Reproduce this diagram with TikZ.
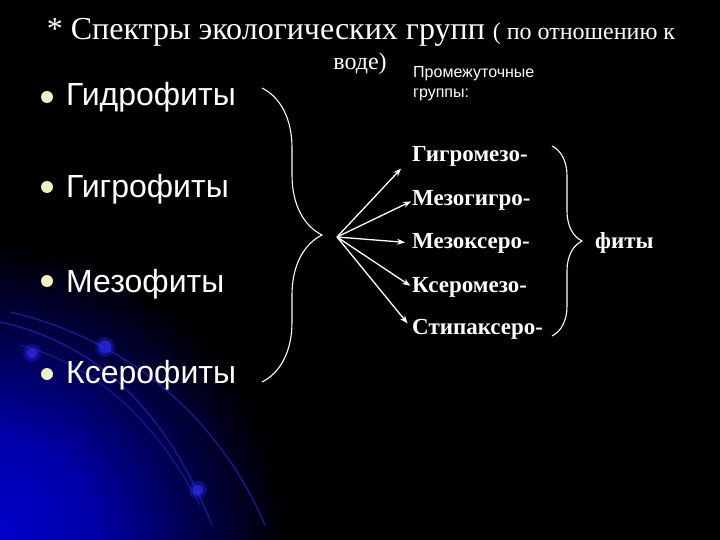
\documentclass[tikz,border=0pt]{standalone}
\usepackage{fontspec}
\setmainfont{Liberation Serif}
\newfontfamily\arialfont{Liberation Sans}
\usetikzlibrary{arrows.meta,decorations.pathreplacing}

\definecolor{glowblue}{RGB}{0,0,210}
\definecolor{arcblue}{RGB}{35,35,185}
\definecolor{dotblue}{RGB}{40,40,225}
\definecolor{bulletyellow}{RGB}{240,240,195}

% blue glow in the lower left corner
\pgfdeclareradialshading{cornerglow}{\pgfpoint{0bp}{0bp}}{%
  color(0bp)=(glowblue); color(110bp)=(glowblue!80!black);
  color(210bp)=(glowblue!35!black); color(300bp)=(black); color(330bp)=(black)}

\tikzset{
  item/.style={anchor=base west,inner sep=0pt,white,font=\arialfont\fontsize{32}{36}\selectfont},
  form/.style={anchor=base west,inner sep=0pt,white,font=\bfseries\fontsize{23}{28}\selectfont},
  note/.style={anchor=base west,inner sep=0pt,white,align=left,font=\arialfont\fontsize{16}{20}\selectfont},
  dot/.style={circle,fill=bulletyellow,inner sep=0pt,minimum size=12pt},
  arr/.style={-{Stealth[length=8pt,width=6pt]},white,line width=1.3pt},
  curly/.style={decorate,white,line width=1.1pt},
}

\begin{document}
\begin{tikzpicture}[x=1pt,y=-1pt]

    \useasboundingbox (0,0) rectangle (720,540);

    %%%%%%%%%%%%%%%%%%%%%%%%%%%%%%%%%%%%%%%%%%%%%%%%%%%%%%

    % background with blue glow
    \fill[black] (0,0) rectangle (720,540);
    \begin{scope}
    \clip (0,0) rectangle (720,540);
    \node[inner sep=0pt] (glow) at (-15,545) {\pgfuseshading{cornerglow}};
    % arcs
    \draw[arcblue,line width=1.5pt,opacity=0.7] (10,312) .. controls (130,340) and (220,420) .. (265,525);
    \draw[arcblue,line width=1.5pt,opacity=0.7] (0,322) .. controls (105,345) and (170,420) .. (212,525);
    \draw[arcblue,line width=1.3pt,opacity=0.6] (20,345) .. controls (105,368) and (160,430) .. (200,505);
    % dots on arcs
    \fill[dotblue,opacity=0.35] (32,353) circle (9pt);
    \fill[dotblue,opacity=0.8] (32,353) circle (5.5pt);
    \fill[dotblue,opacity=0.35] (105,347) circle (10pt);
    \fill[dotblue,opacity=0.8] (105,347) circle (6.5pt);
    \fill[dotblue,opacity=0.35] (198,490) circle (9pt);
    \fill[dotblue,opacity=0.8] (198,490) circle (5.5pt);
    \end{scope}

    %%%%%%%%%%%%%%%%%%%%%%%%%%%%%%%%%%%%%%%%%%%%%%%%%%%%%%

    % title
    \node[anchor=base,inner sep=0pt,white] (title) at (361,40)
      {{\fontsize{32}{36}\selectfont * Спектры экологических групп }{\fontsize{24}{28}\selectfont ( по отношению к}};
    \node[anchor=base,inner sep=0pt,white,font=\fontsize{24}{28}\selectfont] (title2) at (360,70) {воде)};

    %%%%%%%%%%%%%%%%%%%%%%%%%%%%%%%%%%%%%%%%%%%%%%%%%%%%%%

    % main groups
    \node[dot] (d1) at (47,97) {};
    \node[item] (hydro) at (66,106) {Гидрофиты};
    \node[dot] (d2) at (47,187) {};
    \node[item] (hygro) at (66,197) {Гигрофиты};
    \node[dot] (d3) at (47,281) {};
    \node[item] (meso) at (66,292) {Мезофиты};
    \node[dot] (d4) at (47,374) {};
    \node[item] (xero) at (66,383) {Ксерофиты};

    % brace round main groups
    \coordinate (bigtop) at (262,88);
    \coordinate (bigbot) at (262,382);
    \draw[curly,decoration={brace,amplitude=60pt}] (bigtop) -- (bigbot);

    %%%%%%%%%%%%%%%%%%%%%%%%%%%%%%%%%%%%%%%%%%%%%%%%%%%%%%

    % intermediate groups
    \node[note] (inter) at (413,98) {Промежуточные\\группы:};

    \node[form] (gm) at (412,162) {Гигромезо-};
    \node[form] (mg) at (412,206) {Мезогигро-};
    \node[form] (mk) at (412,248) {Мезоксеро-};
    \node[form] (km) at (412,292) {Ксеромезо-};
    \node[form] (sk) at (412,334) {Стипаксеро-};

    % arrows from the brace tip
    \coordinate (hub) at (337,237);
    \draw[arr,shorten >=16pt] (hub) to (gm.west);
    \draw[arr,shorten >=1pt] (hub) to (mg.west);
    \draw[arr,shorten >=7pt] (hub) to (mk.west);
    \draw[arr,shorten >=2pt] (hub) to (km.west);
    \draw[arr,shorten >=7pt] (hub) to (sk.west);

    %%%%%%%%%%%%%%%%%%%%%%%%%%%%%%%%%%%%%%%%%%%%%%%%%%%%%%

    % common ending
    \coordinate (smalltop) at (552,146);
    \coordinate (smallbot) at (552,336);
    \draw[curly,decoration={brace,amplitude=30pt}] (smalltop) -- (smallbot);
    \node[form] (fity) at (595,248) {фиты};

\end{tikzpicture}
\end{document}
